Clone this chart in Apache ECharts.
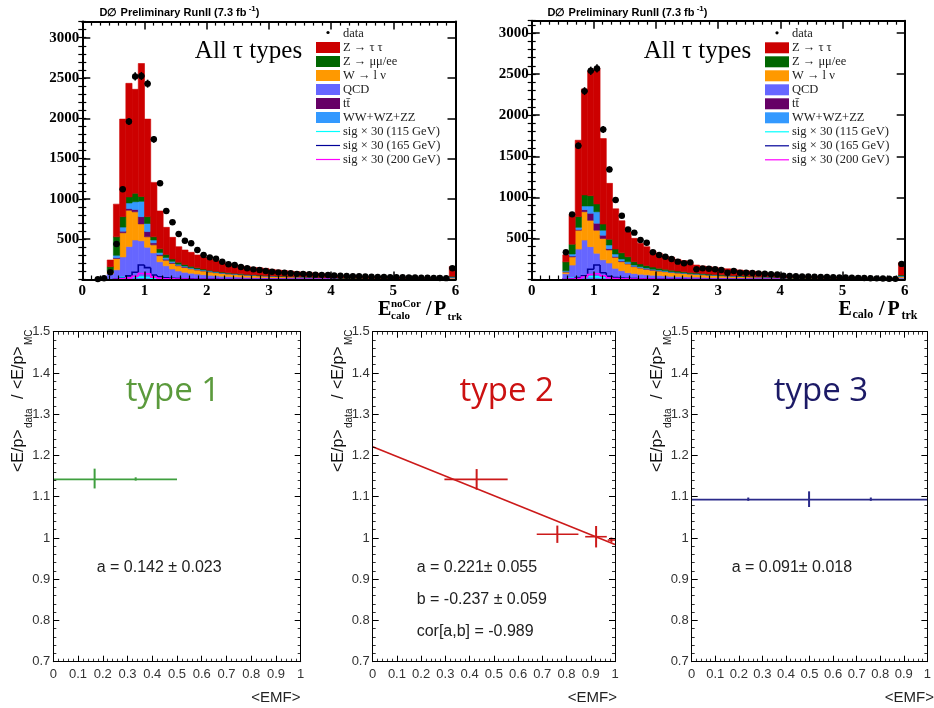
<!DOCTYPE html>
<html><head><meta charset="utf-8">
<script src="https://cdn.jsdelivr.net/npm/echarts@6/dist/echarts.min.js"></script>
<style>html,body{margin:0;padding:0;background:#fff}#c{width:934px;height:708px}</style>
</head><body><div id="c"></div>
<script>
// ---------------- DATA ----------------
const NB = 60, BW = 0.1;
const BIN_LOW = Array.from({length: NB}, (_, i) => i / 10);

// Top-left: E_calo^noCor / P_trk
const TL_DATA = [null,null,5,15,90,440,1120,1960,2520,2525, 2430,1740,1195,850,710,565,480,450,366,304, 275,258,221,189,180,155,139,126,118,105, 97,89,85,78,70,70,65,60,58,55, 50,47,45,42,40,37,35,33,32,30, 28,27,25,24,22,21,20,18,17,140];
const TL_QCD = [0,0,0,0,70,120,280,410,490,480, 400,330,220,170,130,105,90,78,68,60, 52,46,41,37,34,31,28,26,24,22, 20,19,18,17,16,15,14,13,12,11, 9,9,8,8,8,7,7,7,6,6, 6,5,5,5,5,4,4,4,4,15];
const TL_W   = [0,0,0,0,25,140,300,450,350,210, 130,100,75,70,70,65,60,55,50,46, 42,38,35,32,30,28,26,24,22,21, 20,19,18,17,16,15,14,13,12,11, 8,8,7,7,7,6,6,6,5,5, 5,5,4,4,4,4,3,3,3,10];
const TL_TT  = [0,0,0,0,2,10,20,20,30,90, 65,25,15,12,10,8,6,5,5,4, 4,3,3,3,2,2,2,2,2,2, 2,1,1,1,1,1,1,1,1,1, 1,1,1,1,1,1,1,1,1,1, 0,0,0,0,0,0,0,0,0,2];
const TL_WW  = [0,0,0,0,3,30,50,70,95,190, 100,35,25,20,15,12,10,9,8,7, 6,5,5,4,4,3,3,3,3,2, 2,2,2,2,2,2,1,1,1,1, 1,1,1,1,1,1,1,1,1,1, 1,1,1,1,1,1,1,1,1,5];
const TL_ZMM = [0,0,0,0,59,230,130,75,105,60, 85,40,45,38,30,25,20,17,14,12, 10,9,8,7,6,6,5,5,4,4, 4,3,3,3,3,3,2,2,2,2, 1,1,1,1,1,1,1,1,1,1, 1,1,1,1,1,1,1,1,1,8];
const TL_ZTT = [0,0,0,0,83,405,1210,1409,1290,1650, 1210,675,470,337,268,192,180,173,159,146, 136,128,118,112,104,100,96,90,90,87, 77,74,68,63,58,54,52,48,44,40, 20,19,18,17,16,15,14,13,12,11, 11,10,10,9,9,8,8,7,7,120];
const TL_S115 = [0,0,0,0,0,8,25,30,35,30, 25,15,10,8,6,5,4,4,3,3, 3,2,2,2,2,2,2,1,1,1, 1,1,1,1,1,1,1,1,1,1, 0,0,0,0,0,0,0,0,0,0, 0,0,0,0,0,0,0,0,0,0];
const TL_S165 = [0,0,0,0,0,5,15,45,90,180, 147,56,35,22,15,12,10,8,7,6, 5,5,4,4,3,3,3,2,2,2, 2,2,2,1,1,1,1,1,1,1, 0,0,0,0,0,0,0,0,0,0, 0,0,0,0,0,0,0,0,0,0];
const TL_S200 = [0,0,0,0,0,3,8,20,40,75, 70,30,15,10,8,6,5,4,4,3, 3,3,2,2,2,2,2,2,1,1, 1,1,1,1,1,1,1,1,1,1, 0,0,0,0,0,0,0,0,0,0, 0,0,0,0,0,0,0,0,0,0];

// Top-right: E_calo / P_trk
const TR_DATA = [null,null,null,null,null,331,793,1628,2293,2540, 2569,1827,1340,967,776,610,570,480,448,331, 298,277,249,217,197,209,124,136,131,124, 116,83,103,83,83,80,75,70,65,60, 45,42,40,38,36,34,32,30,28,26, 24,22,20,18,16,14,12,10,8,190];
const TR_QCD = [0,0,0,0,0,70,175,370,480,400, 320,240,200,136,107,83,73,65,58,52, 48,44,40,37,34,31,29,27,25,23, 21,20,19,18,17,16,15,14,13,12, 9,9,8,8,8,7,7,7,6,6, 6,5,5,5,5,4,4,4,4,20];
const TR_W   = [0,0,0,0,0,20,100,230,345,320, 280,260,160,134,110,106,83,75,68,62, 56,51,47,43,40,37,34,31,29,27, 25,23,22,20,18,17,16,15,14,13, 9,9,8,8,7,7,6,6,6,5, 5,5,4,4,4,4,3,3,3,15];
const TR_TT  = [0,0,0,0,0,5,10,10,25,85, 85,40,15,10,8,6,5,4,4,3, 3,3,2,2,2,2,2,2,1,1, 1,1,1,1,1,1,1,1,1,0, 0,0,0,0,0,0,0,0,0,0, 0,0,0,0,0,0,0,0,0,2];
const TR_WW  = [0,0,0,0,0,10,25,25,45,90, 140,60,45,30,25,20,15,12,10,9, 8,7,6,5,5,4,4,3,3,3, 3,2,2,2,2,2,2,1,1,1, 1,1,1,1,1,1,1,1,1,1, 1,1,1,1,1,1,1,1,1,6];
const TR_ZMM = [0,0,0,0,0,110,120,130,135,125, 95,75,70,60,75,62,41,34,30,26, 23,20,18,16,14,12,11,10,9,8, 7,7,6,6,5,5,4,4,4,3, 2,2,2,2,2,2,2,1,1,1, 1,1,1,1,1,1,1,1,1,12];
const TR_ZTT = [0,0,0,0,0,85,360,930,1290,1520, 1650,1040,680,490,390,305,284,250,229,195, 180,161,157,142,134,111,96,91,89,86, 79,77,74,68,63,59,52,47,42,37, 18,17,16,15,14,13,12,11,10,10, 9,9,8,8,7,7,7,6,6,150];
const TR_S115 = [0,0,0,0,0,5,15,25,30,35, 32,25,18,12,8,6,5,4,4,3, 3,3,2,2,2,2,2,1,1,1, 1,1,1,1,1,1,1,1,1,1, 0,0,0,0,0,0,0,0,0,0, 0,0,0,0,0,0,0,0,0,0];
const TR_S165 = [0,0,0,0,0,3,10,25,45,125, 176,83,40,25,18,14,11,9,8,7, 6,5,5,4,4,3,3,3,2,2, 2,2,2,1,1,1,1,1,1,1, 0,0,0,0,0,0,0,0,0,0, 0,0,0,0,0,0,0,0,0,0];
const TR_S200 = [0,0,0,0,0,2,5,12,30,60, 70,45,20,12,9,7,6,5,4,4, 3,3,3,2,2,2,2,2,1,1, 1,1,1,1,1,1,1,1,1,1, 0,0,0,0,0,0,0,0,0,0, 0,0,0,0,0,0,0,0,0,0];

const COMP_NAMES = ['QCD', 'W \u2192 l \u03bd', 'tt\u0304', 'WW+WZ+ZZ', 'Z \u2192 \u03bc\u03bc/ee', 'Z \u2192 \u03c4 \u03c4'];
const COMP_COLORS = ['#6666ff', '#ff9900', '#660066', '#3399ff', '#006600', '#cc0000'];
const SIG_COLORS = ['#00ffff', '#000099', '#ff00ff'];
const LEGEND_LABELS = ['data', 'Z \u2192 \u03c4 \u03c4', 'Z \u2192 \u03bc\u03bc/ee', 'W \u2192 l \u03bd', 'QCD', 'tt\u0304', 'WW+WZ+ZZ', 'sig \u00d7 30 (115 GeV)', 'sig \u00d7 30 (165 GeV)', 'sig \u00d7 30 (200 GeV)'];
const LEGEND_KEYS = ['dot', '#cc0000', '#006600', '#ff9900', '#6666ff', '#660066', '#3399ff', 'L#00ffff', 'L#000099', 'L#ff00ff'];

// Bottom: <E/p>_data / <E/p>_MC vs <EMF>  — points: [x, y, xErrLow, xErrHigh, yErr]
const T1_POINTS = [[0.167, 1.144, 0, 0, 0.024], [0.333, 1.143, 0, 0, 0.004]];
const T1_FIT = [[0, 1.142], [0.5, 1.142]];
const T2_POINTS = [[0.429, 1.142, 0.133, 0.128, 0.025], [0.762, 1.009, 0.085, 0.087, 0.021], [0.922, 1.003, 0.045, 0.044, 0.026], [0.985, 0.995, 0.015, 0.015, 0.006]];
const T2_FIT = [[0, 1.221], [1, 0.984]];
const T3_POINTS = [[0.498, 1.094, 0, 0, 0.019], [0.24, 1.094, 0, 0, 0.004], [0.76, 1.094, 0, 0, 0.004]];
const T3_FIT = [[0, 1.093], [1, 1.093]];
const FIT_TEXT = [['a = 0.142 \u00b1 0.023'], ['a = 0.221\u00b1 0.055', 'b = -0.237 \u00b1 0.059', 'cor[a,b] = -0.989'], ['a = 0.091\u00b1 0.018']];
const TYPE_LABELS = ['type 1', 'type 2', 'type 3'];

// ---------------- BUILD ----------------
const xAxes = [], yAxes = [], series = [], graphics = [];
const SERIF = '"Liberation Serif", "Times New Roman", serif';
const SANS = '"Liberation Sans", Arial, sans-serif';

function tick(len, w) { return {show: true, inside: true, length: len, lineStyle: {color: '#000', width: w}}; }
function minor(n, len, w) { return {show: true, splitNumber: n, length: len, lineStyle: {color: '#000', width: w}}; }
function aline(w) { return {show: true, onZero: false, lineStyle: {color: '#000', width: w}}; }

function topPanel(g, ymax, comps, sigs, data) {
  const xb = {gridIndex: g, type: 'value', min: 0, max: 6, interval: 1, splitLine: {show: false}, z: 10};
  const xi = xAxes.length;
  xAxes.push(Object.assign({}, xb, {position: 'bottom', axisLine: aline(2), axisTick: tick(8, 1.5), minorTick: minor(7, 4, 1.2),
    axisLabel: {show: true, color: '#000', fontFamily: SERIF, fontWeight: 'bold', fontSize: 15, margin: 4}}));
  xAxes.push(Object.assign({}, xb, {position: 'top', axisLine: aline(2), axisTick: tick(8, 1.5), minorTick: minor(7, 4, 1.2), axisLabel: {show: false}}));
  const yb = {gridIndex: g, type: 'value', min: 0, max: ymax, splitLine: {show: false}, z: 10};
  const yi = yAxes.length;
  yAxes.push(Object.assign({}, yb, {position: 'left', interval: 500, axisLine: aline(2), axisTick: tick(8, 1.5),
    axisLabel: {show: true, color: '#000', fontFamily: SERIF, fontWeight: 'bold', fontSize: 15, margin: 3,
      formatter: v => (v > 0 && v % 500 === 0) ? String(v) : ''}}));
  yAxes.push(Object.assign({}, yb, {position: 'right', interval: 500, axisLine: aline(2), axisTick: tick(8, 1.5), axisLabel: {show: false}}));
  yAxes.push(Object.assign({}, yb, {position: 'left', interval: 100, axisLine: {show: false}, axisTick: tick(4, 1.2), axisLabel: {show: false}}));
  yAxes.push(Object.assign({}, yb, {position: 'right', interval: 100, axisLine: {show: false}, axisTick: tick(4, 1.2), axisLabel: {show: false}}));

  const cum = new Array(NB).fill(0);
  comps.forEach((arr, k) => {
    const d = [];
    for (let i = 0; i < NB; i++) {
      const v = arr[i] || 0;
      if (v > 0) d.push([BIN_LOW[i], BIN_LOW[i] + BW, cum[i], cum[i] + v]);
      cum[i] += v;
    }
    const col = COMP_COLORS[k];
    series.push({type: 'custom', name: COMP_NAMES[k], xAxisIndex: xi, yAxisIndex: yi, clip: true, silent: true, z: 2,
      encode: {x: [0, 1], y: [2, 3]}, data: d,
      renderItem: (p, api) => {
        const a = api.coord([api.value(0), api.value(3)]);
        const b = api.coord([api.value(1), api.value(2)]);
        return {type: 'rect', shape: {x: a[0], y: a[1], width: b[0] - a[0], height: b[1] - a[1]},
          style: {fill: col, stroke: col, lineWidth: 0.6}};
      }});
  });
  sigs.forEach((arr, k) => {
    const d = [];
    for (let i = 0; i < NB; i++) {
      const v = arr[i] || 0, pv = i > 0 ? (arr[i - 1] || 0) : 0;
      if (v > 0 || pv > 0) d.push([BIN_LOW[i], BIN_LOW[i] + BW, v, pv]);
    }
    const col = SIG_COLORS[k];
    series.push({type: 'custom', xAxisIndex: xi, yAxisIndex: yi, clip: true, silent: true, z: 3,
      encode: {x: [0, 1], y: [2, 3]}, data: d,
      renderItem: (p, api) => {
        const a = api.coord([api.value(0), api.value(3)]);
        const b = api.coord([api.value(0), api.value(2)]);
        const c = api.coord([api.value(1), api.value(2)]);
        return {type: 'polyline', shape: {points: [a, b, c]}, style: {stroke: col, lineWidth: 1.6, fill: 'none'}};
      }});
  });
  const dd = [];
  data.forEach((v, i) => { if (v != null) dd.push([BIN_LOW[i] + BW / 2, v]); });
  series.push({type: 'custom', name: 'data', xAxisIndex: xi, yAxisIndex: yi, clip: false, silent: true, z: 12,
    encode: {x: 0, y: 1}, data: dd,
    renderItem: (p, api) => {
      const x = api.value(0), y = api.value(1), e = Math.sqrt(y);
      const c = api.coord([x, y]), t = api.coord([x, y + e]), b = api.coord([x, Math.max(0, y - e)]);
      const l = api.coord([x - 0.05, y]), r = api.coord([x + 0.05, y]);
      return {type: 'group', children: [
        {type: 'line', shape: {x1: c[0], y1: t[1], x2: c[0], y2: b[1]}, style: {stroke: '#000', lineWidth: 1.6}},
        {type: 'line', shape: {x1: l[0], y1: c[1], x2: r[0], y2: c[1]}, style: {stroke: '#000', lineWidth: 1.6}},
        {type: 'circle', shape: {cx: c[0], cy: c[1], r: 3.2}, style: {fill: '#000'}}
      ]};
    }});
}

function botPanel(g, fit, pts, color) {
  const lab = {show: true, color: '#333', fontFamily: SANS, fontSize: 13};
  const xb = {gridIndex: g, type: 'value', min: 0, max: 1, interval: 0.1, splitLine: {show: false}, z: 10};
  const xi = xAxes.length;
  xAxes.push(Object.assign({}, xb, {position: 'bottom', axisLine: aline(1), axisTick: tick(6, 1), minorTick: minor(5, 3, 0.8),
    axisLabel: Object.assign({margin: 6}, lab)}));
  xAxes.push(Object.assign({}, xb, {position: 'top', axisLine: aline(1), axisTick: tick(6, 1), minorTick: minor(5, 3, 0.8), axisLabel: {show: false}}));
  const yb = {gridIndex: g, type: 'value', min: 0.7, max: 1.5, interval: 0.1, splitLine: {show: false}, z: 10};
  const yi = yAxes.length;
  yAxes.push(Object.assign({}, yb, {position: 'left', axisLine: aline(1), axisTick: tick(6, 1), minorTick: minor(5, 3, 0.8),
    axisLabel: Object.assign({margin: 3}, lab)}));
  yAxes.push(Object.assign({}, yb, {position: 'right', axisLine: aline(1), axisTick: tick(6, 1), minorTick: minor(5, 3, 0.8), axisLabel: {show: false}}));
  series.push({type: 'line', xAxisIndex: xi, yAxisIndex: yi, data: fit, symbol: 'none', showSymbol: false, silent: true, z: 3,
    lineStyle: {color: color, width: 1.6}});
  series.push({type: 'custom', xAxisIndex: xi, yAxisIndex: yi, clip: false, silent: true, z: 4, data: pts,
    encode: {x: 0, y: 1},
    renderItem: (p, api) => {
      const x = api.value(0), y = api.value(1), el = api.value(2), eh = api.value(3), ey = api.value(4);
      const c = api.coord([x, y]), l = api.coord([x - el, y]), r = api.coord([x + eh, y]);
      const t = api.coord([x, y + ey]), b = api.coord([x, y - ey]);
      const ch = [{type: 'line', shape: {x1: c[0], y1: t[1], x2: c[0], y2: b[1]}, style: {stroke: color, lineWidth: 2}}];
      if (el + eh > 0) ch.push({type: 'line', shape: {x1: l[0], y1: c[1], x2: r[0], y2: c[1]}, style: {stroke: color, lineWidth: 1.6}});
      return {type: 'group', children: ch};
    }});
}

const grids = [
  {left: 82.3, right: 478.5, top: 21.6, bottom: 428.5},
  {left: 531.7, right: 29.3, top: 20.7, bottom: 428.5},
  {left: 53.3, right: 633.3, top: 331.7, bottom: 46.3},
  {left: 372.7, right: 319, top: 331.7, bottom: 46.3},
  {left: 691.7, right: 1, top: 331.7, bottom: 46.3}
];

topPanel(0, 3200, [TL_QCD, TL_W, TL_TT, TL_WW, TL_ZMM, TL_ZTT], [TL_S115, TL_S165, TL_S200], TL_DATA);
topPanel(1, 3150, [TR_QCD, TR_W, TR_TT, TR_WW, TR_ZMM, TR_ZTT], [TR_S115, TR_S165, TR_S200], TR_DATA);
botPanel(2, T1_FIT, T1_POINTS, '#3f9f3f');
botPanel(3, T2_FIT, T2_POINTS, '#cc1a1a');
botPanel(4, T3_FIT, T3_POINTS, '#2a2a8a');

// ---------------- TEXT / LEGEND GRAPHICS ----------------
function txt(x, y, text, font, fill, align, valign, extra) {
  return Object.assign({type: 'text', x: x, y: y, silent: true, z: 100,
    style: {text: text, font: font, fill: fill || '#000', align: align || 'left', verticalAlign: valign || 'middle',
      textAlign: align || 'left', textVerticalAlign: valign || 'middle'}}, extra || {});
}
// headers
[[179.5, 12.7], [627.5, 12.7]].forEach(([x, y]) => {
  graphics.push({type: 'text', x: x, y: y, z: 100, silent: true,
    style: {text: '{a|D\u2205 Preliminary RunII (7.3 fb}{b| -1}{a|)}', align: 'center', verticalAlign: 'middle',
      textAlign: 'center', textVerticalAlign: 'middle',
      rich: {a: {font: 'bold 11px ' + SANS, fill: '#000'}, b: {font: 'bold 8px ' + SANS, fill: '#000', padding: [0, 0, 7, 0]}}}});
});
graphics.push(txt(248.5, 51.7, 'All \u03c4 types', '25px ' + SERIF, '#000', 'center'));
graphics.push(txt(697.5, 51.7, 'All \u03c4 types', '25px ' + SERIF, '#000', 'center'));

// legends
function legend(x0, y0) {
  LEGEND_LABELS.forEach((lab, i) => {
    const y = y0 + 14 * i, key = LEGEND_KEYS[i];
    if (key === 'dot') graphics.push({type: 'circle', z: 100, silent: true, shape: {cx: x0 + 12, cy: y - 1, r: 1.6}, style: {fill: '#000'}});
    else if (key[0] === 'L') graphics.push({type: 'line', z: 100, silent: true, shape: {x1: x0, y1: y, x2: x0 + 24, y2: y}, style: {stroke: key.slice(1), lineWidth: 1.2}});
    else graphics.push({type: 'rect', z: 100, silent: true, shape: {x: x0, y: y - 5.5, width: 24, height: 11}, style: {fill: key}});
    graphics.push(txt(x0 + 27, y, lab, '12.5px ' + SERIF, '#222'));
  });
}
legend(316, 33.5);
legend(765, 33.8);

// x-axis titles (top)
const TB = 'bold 20px ' + SERIF, TS = 'bold 11px ' + SERIF;
graphics.push(txt(378, 310, 'E', TB));
graphics.push(txt(391, 304, 'noCor', TS));
graphics.push(txt(391, 316, 'calo', TS));
graphics.push(txt(426, 310, '/', TB));
graphics.push(txt(434, 310, 'P', TB));
graphics.push(txt(447.5, 317, 'trk', TS));
const TS2 = 'bold 12px ' + SERIF;
graphics.push(txt(838.5, 310, 'E', TB));
graphics.push(txt(852.5, 314.5, 'calo', TS2));
graphics.push(txt(879, 310, '/', TB));
graphics.push(txt(887.5, 310, 'P', TB));
graphics.push(txt(901.5, 316, 'trk', TS2));

// bottom panel texts
const TYPE_COLORS = ['#5b9a3c', '#cc1111', '#1c1a66'];
[[173, 392], [506.7, 392], [821, 392]].forEach(([x, y], i) => {
  graphics.push(txt(x, y, TYPE_LABELS[i], '33px "Open Sans", Lato, sans-serif', TYPE_COLORS[i], 'center'));
});
[[96.7, 568], [416.7, 568], [731.7, 568]].forEach(([x, y], i) => {
  FIT_TEXT[i].forEach((t, j) => graphics.push(txt(x, y + 31.8 * j, t, '16px ' + SANS, '#222')));
});
[[300.5, 698], [617, 698], [934, 698]].forEach(([x, y]) => graphics.push(txt(x, y, '<EMF>', '15px ' + SANS, '#222', 'right')));

// rotated y titles
[11, 331, 650].forEach(gx => {
  const F = '16px ' + SANS, S = '10px ' + SANS;
  graphics.push({type: 'group', x: gx, y: 472, rotation: Math.PI / 2, silent: true, z: 100, children: [
    txt(0, 0, '<E/p>', F, '#111', 'left', 'top'),
    txt(44, 13, 'data', S, '#111', 'left', 'top'),
    txt(73, 0, '/', F, '#111', 'left', 'top'),
    txt(83, 0, '<E/p>', F, '#111', 'left', 'top'),
    txt(127, 13, 'MC', S, '#111', 'left', 'top')
  ]});
});

const chart = echarts.init(document.getElementById('c'));
chart.setOption({
  animation: false,
  backgroundColor: '#fff',
  grid: grids,
  xAxis: xAxes,
  yAxis: yAxes,
  series: series,
  graphic: {elements: graphics}
});
</script></body></html>
